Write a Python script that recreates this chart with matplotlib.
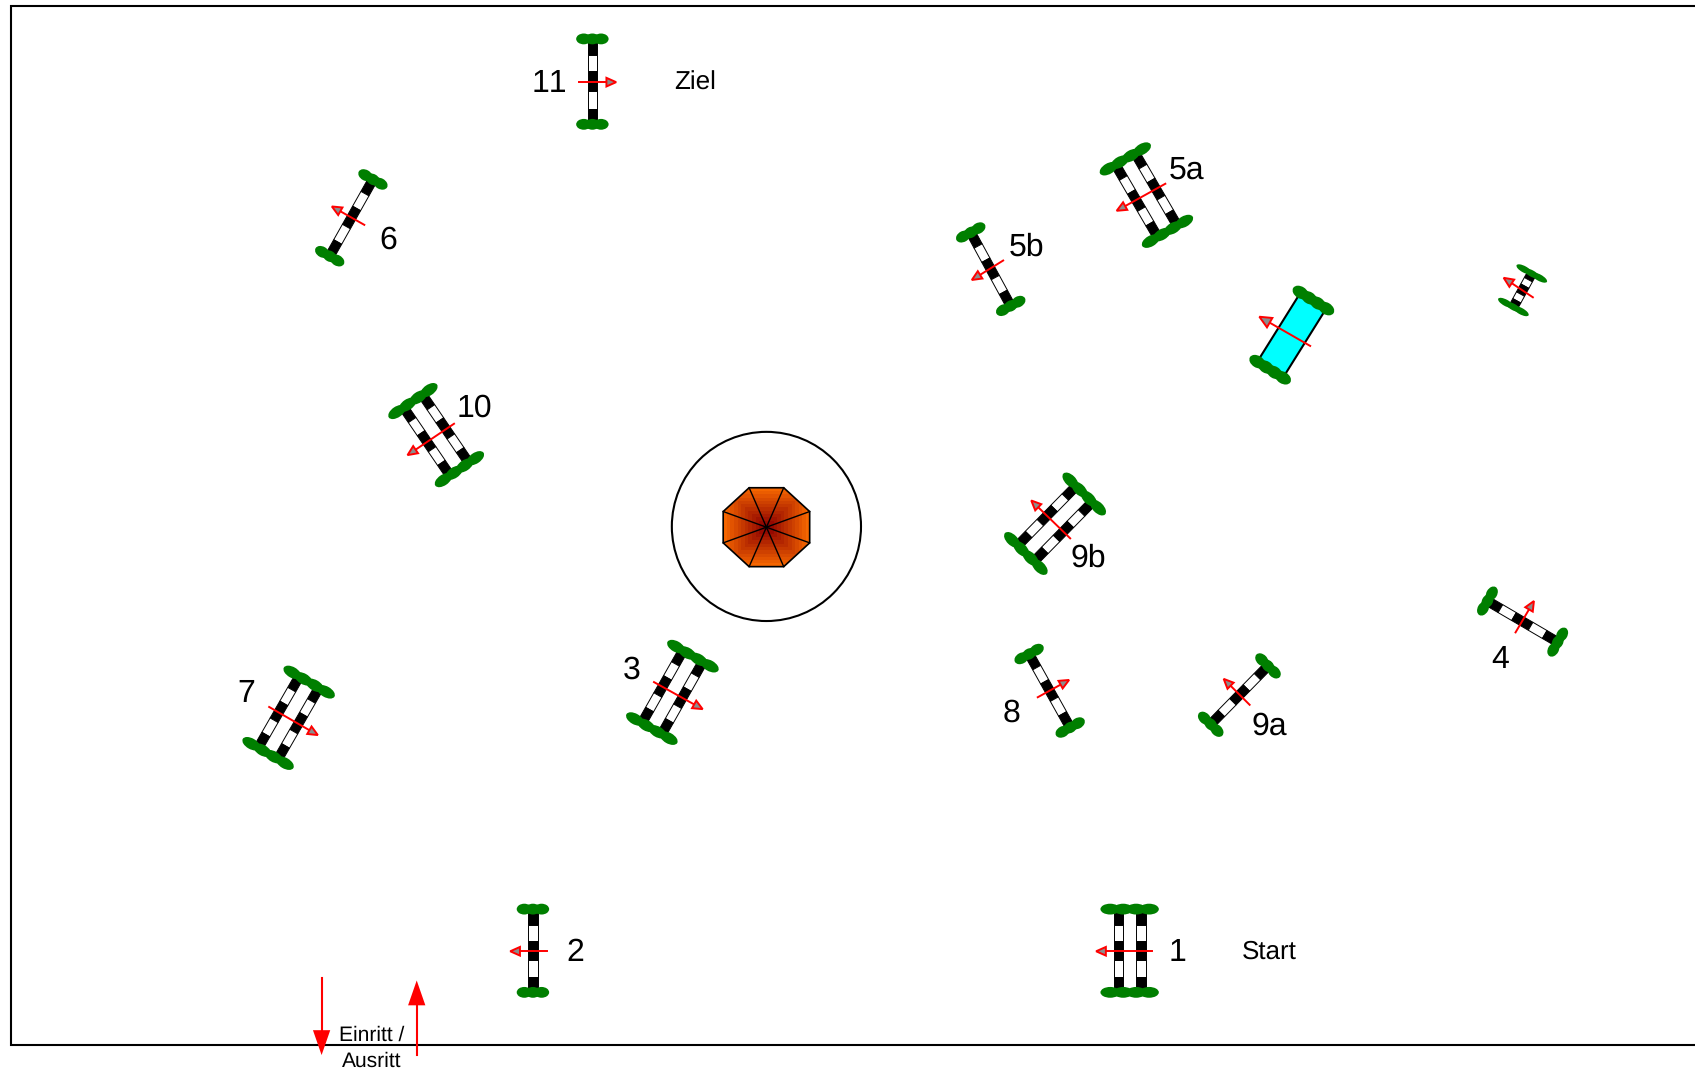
import numpy as np
import matplotlib
matplotlib.use("Agg")
import matplotlib.pyplot as plt
from matplotlib.patches import Polygon, Ellipse, Circle, Rectangle

plt.rcParams['font.family'] = ['Liberation Sans', 'DejaVu Sans']
plt.rcParams['text.hinting'] = 'no_hinting'
plt.rcParams['text.hinting_factor'] = 1
plt.rcParams['text.kerning_factor'] = 6

# Obstacle data: rail end points, arrow tail and arrow tip
names = ['1', '2', '3', '4', '5a', '5b', '6', '7', '8', '9a', '9b', '10', '11', 'small']
end1_x = [1045, 493, 641, 1376, 1041, 898, 345, 286, 952, 1173, 1003, 382, 548, 1417]
end1_y = [841, 841, 607, 556, 147, 215, 166, 631, 605, 616, 457, 371, 36, 253]
end2_x = [1045, 493, 603, 1441, 1080, 935, 305, 248, 990, 1120, 949, 425, 548, 1400]
end2_y = [918, 918, 674, 594, 214, 283, 237, 697, 673, 670, 512, 434, 115, 284]
rails = [2, 1, 2, 1, 2, 1, 1, 2, 1, 1, 2, 2, 1, 1]
tail_x = [1066, 506, 605, 1402, 1078, 928, 337, 249, 960, 1156, 990, 420, 536, 1418]
tail_y = [880, 880, 631, 585, 170, 241, 208, 654, 645, 652, 498, 392, 76, 275]
tip_x = [1014, 472, 650, 1419, 1033, 899, 307, 294, 989, 1132, 954, 377, 570, 1391]
tip_y = [880, 880, 656, 556, 195, 259, 191, 680, 629, 628, 463, 421, 76, 257]

# Water obstacle
water_end1 = (1215, 278)
water_end2 = (1175, 342)
water_tail = (1212, 320)
water_tip = (1165, 293)

# Number labels
label_text = ['1', '2', '3', '4', '5a', '5b', '6', '7', '8', '9a', '9b', '10', '11']
label_x = [1089, 532, 584, 1388, 1098, 950, 359, 228, 936, 1174, 1007, 439, 508]
label_y = [881, 881, 620, 610, 158, 229, 222, 642, 660, 672, 517, 378, 77]

note_text = ['Ziel', 'Start', 'Einritt /', 'Ausritt']
note_x = [643, 1174, 343.5, 343.5]
note_y = [76.5, 880.5, 958, 982]
note_size = [19, 19, 15, 15]

W, H = 1568, 1068 * 1568 / 1695
fig = plt.figure(figsize=(16.95, 10.68), dpi=100)
ax = fig.add_axes([0, 0, 1, 1])
ax.set_xlim(0, W)
ax.set_ylim(H, 0)
ax.axis('off')

GREEN = '#007f00'
RED = '#ff0000'

# Arena frame (open on the right)
ax.plot([W + 5, 10, 10, W + 5], [6, 6, 967, 967], color='black', lw=1.5, zorder=1,
        solid_joinstyle='miter')

def basis(p, q):
    p, q = np.array(p, float), np.array(q, float)
    d = q - p
    L = np.hypot(*d)
    u = d / L
    return p, q, u, np.array([-u[1], u[0]]), L

def bush(c, n, half, h, thick):
    offs = np.linspace(-half, half, n)
    ang = np.degrees(np.arctan2(n_vec[1], n_vec[0]))
    for o in offs:
        ax.add_patch(Ellipse(c + n_vec * o, h, thick, angle=ang, fc=GREEN, ec='none', zorder=5))

def rail(a, b, w):
    for f0, f1, col in [(0, .185, 'k'), (.185, .378, 'w'), (.378, .614, 'k'),
                        (.614, .815, 'w'), (.815, 1, 'k')]:
        s, t = a + (b - a) * f0, a + (b - a) * f1
        ax.add_patch(Polygon([s - n_vec * w / 2, s + n_vec * w / 2, t + n_vec * w / 2, t - n_vec * w / 2],
                             closed=True, fc=col, ec='k', lw=0.7, zorder=3))

def arrow(tail, tip, hl=9, hw=8):
    t0, t1 = np.array(tail, float), np.array(tip, float)
    u = (t1 - t0) / np.hypot(*(t1 - t0))
    n = np.array([-u[1], u[0]])
    base = t1 - u * hl
    ax.plot([t0[0], base[0]], [t0[1], base[1]], color=RED, lw=1.4, zorder=7)
    ax.add_patch(Polygon([t1, base + n * hw / 2, base - n * hw / 2], closed=True,
                         fc='#8c8c8c', ec=RED, lw=1.4, zorder=8))

for i in range(len(names)):
    p, q, u_vec, n_vec, L = basis((end1_x[i], end1_y[i]), (end2_x[i], end2_y[i]))
    small = names[i] == 'small'
    if rails[i] == 2:
        for s in (-10.5, 10.5):
            rail(p + n_vec * s, q + n_vec * s, 8.5)
        for c in (p, q):
            bush(c, 4, 18, 18, 10)
    else:
        rail(p, q, 8.5)
        for c in (p, q):
            if small:
                bush(c, 3, 8, 16, 6)
            else:
                bush(c, 3, 8, 14, 10)
    arrow((tail_x[i], tail_y[i]), (tip_x[i], tip_y[i]))

# Water obstacle
p, q, u_vec, n_vec, L = basis(water_end1, water_end2)
hw = 14
ax.add_patch(Polygon([p - n_vec * hw, p + n_vec * hw, q + n_vec * hw, q - n_vec * hw],
                     closed=True, fc='#00ffff', ec='none', zorder=3))
for s in (-hw, hw):
    a, b = p + n_vec * s, q + n_vec * s
    ax.plot([a[0], b[0]], [a[1], b[1]], color='k', lw=1.5, zorder=4)
for c in (p, q):
    bush(c, 4, 14, 16, 11)
arrow(water_tail, water_tip, hl=11, hw=10)

# Central tree in a circle
cx, cy = 709, 487
ax.add_patch(Circle((cx, cy), 87.5, fc='none', ec='k', lw=1.5, zorder=2))
oy = cy + 0.7
rx, ry, sx, sy = 40, 36.5, 16, 14.5
octagon = [(cx - sx, oy - ry), (cx + sx, oy - ry), (cx + rx, oy - sy), (cx + rx, oy + sy),
           (cx + sx, oy + ry), (cx - sx, oy + ry), (cx - rx, oy + sy), (cx - rx, oy - sy)]
clip = Polygon(octagon, closed=True, fc='none', ec='k', lw=1.2, zorder=6)
ax.add_patch(clip)
steps = 12
c0 = np.array([0xF5, 0x66, 0x00]) / 255
c1 = np.array([0x8B, 0x00, 0x00]) / 255
for k in range(steps):
    f = 1 - k / steps
    col = c0 + (c1 - c0) * (k / (steps - 1))
    r = Rectangle((cx - rx * f, oy - ry * f), 2 * rx * f, 2 * ry * f, fc=col, ec='none', zorder=4 + k * 0.01)
    ax.add_patch(r)
    r.set_clip_path(clip)
for v in octagon:
    ax.plot([cx, v[0]], [oy, v[1]], color='k', lw=1.0, zorder=6)

# Entry and exit arrows
for x, y0, y1 in [(297.5, 905, 976), (385.5, 976, 907)]:
    d = 1 if y1 > y0 else -1
    ax.plot([x, x], [y0, y1 - d * 20], color=RED, lw=1.5, zorder=7)
    ax.add_patch(Polygon([(x, y1), (x - 8, y1 - d * 23), (x + 8, y1 - d * 23)], closed=True,
                         fc=RED, ec='none', zorder=7))

for t, x, y in zip(label_text, label_x, label_y):
    ax.text(x, y, t, fontsize=23, ha='center', va='center', color='k', zorder=9)
for t, x, y, s in zip(note_text, note_x, note_y, note_size):
    ax.text(x, y, t, fontsize=s, ha='center', va='center', color='k', zorder=9)

fig.savefig('out.png', dpi=100)
